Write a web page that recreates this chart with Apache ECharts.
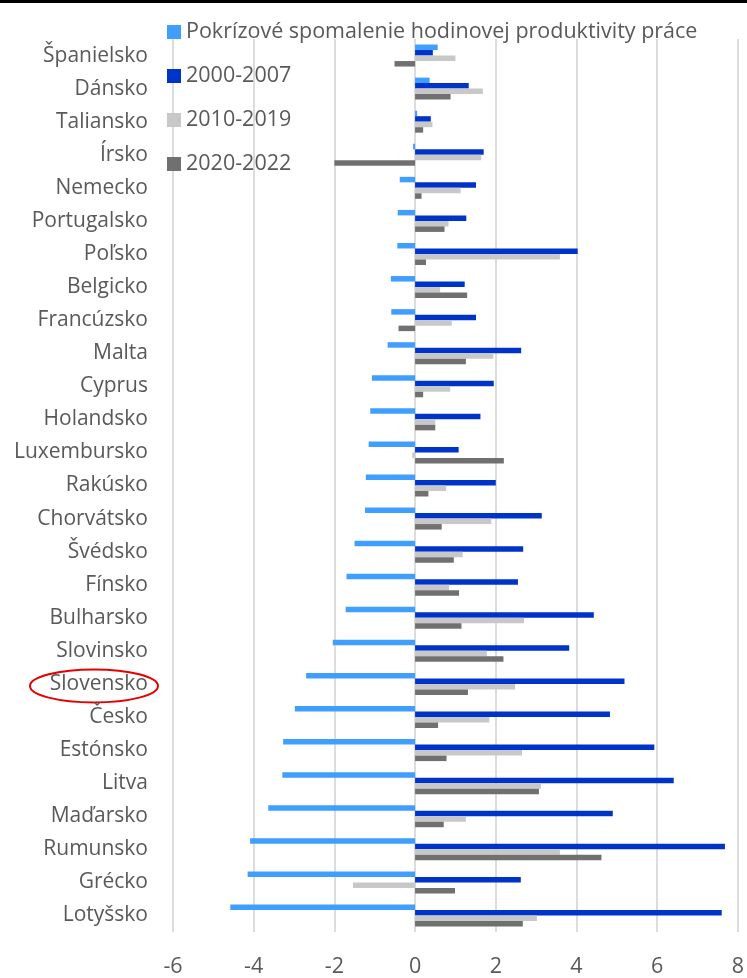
<!DOCTYPE html>
<html>
<head>
<meta charset="utf-8">
<script src="https://cdn.jsdelivr.net/npm/echarts@6/dist/echarts.min.js"></script>
<style>
  html, body { margin: 0; padding: 0; background: #fff; }
  #chart { width: 747px; height: 978px; }
</style>
</head>
<body>
<div id="chart"></div>
<script>
// Countries, top to bottom
const categories = ['Španielsko','Dánsko','Taliansko','Írsko','Nemecko','Portugalsko','Poľsko','Belgicko','Francúzsko','Malta','Cyprus','Holandsko','Luxembursko','Rakúsko','Chorvátsko','Švédsko','Fínsko','Bulharsko','Slovinsko','Slovensko','Česko','Estónsko','Litva','Maďarsko','Rumunsko','Grécko','Lotyšsko'];

// Post-crisis slowdown of hourly labour productivity (p.p.)
const slowdown = [0.56, 0.36, 0.05, -0.05, -0.38, -0.43, -0.44, -0.60, -0.59, -0.68, -1.07, -1.11, -1.15, -1.22, -1.24, -1.50, -1.70, -1.72, -2.04, -2.70, -2.98, -3.27, -3.29, -3.64, -4.09, -4.15, -4.58];
// Average growth of hourly labour productivity (%)
const growth2000_2007 = [0.44, 1.33, 0.39, 1.70, 1.51, 1.27, 4.03, 1.23, 1.51, 2.63, 1.95, 1.62, 1.08, 2.00, 3.14, 2.68, 2.55, 4.43, 3.82, 5.19, 4.83, 5.93, 6.41, 4.90, 7.68, 2.62, 7.60];
const growth2010_2019 = [1.00, 1.68, 0.43, 1.64, 1.13, 0.83, 3.59, 0.62, 0.91, 1.94, 0.87, 0.50, -0.07, 0.77, 1.89, 1.18, 0.84, 2.70, 1.78, 2.48, 1.84, 2.65, 3.12, 1.26, 3.59, -1.54, 3.02];
const growth2020_2022 = [-0.51, 0.88, 0.20, -2.00, 0.16, 0.73, 0.27, 1.29, -0.41, 1.26, 0.20, 0.50, 2.20, 0.33, 0.66, 0.96, 1.09, 1.15, 2.19, 1.31, 0.57, 0.78, 3.07, 0.71, 4.62, 0.99, 2.67];

const seriesNames = ['Pokrízové spomalenie hodinovej produktivity práce', '2000-2007', '2010-2019', '2020-2022'];
const seriesColors = ['#409EFF', '#0033C8', '#C8C8C8', '#707070'];
const xTicks = { min: -6, max: 8, interval: 2 };

const FONT = '"Open Sans", "Noto Sans", sans-serif';
const TEXT = '#595959';

const chart = echarts.init(document.getElementById('chart'), null, { renderer: 'canvas' });

const valueSets = [slowdown, growth2000_2007, growth2010_2019, growth2020_2022];

chart.setOption({
  animation: false,
  textStyle: { fontFamily: FONT },
  grid: { left: 173, right: 7, top: 39, bottom: 45, containLabel: false },
  legend: {
    orient: 'vertical',
    left: 162,
    top: 15,
    itemWidth: 14,
    itemHeight: 14,
    itemGap: 20,
    icon: 'rect',
    data: seriesNames,
    textStyle: { fontFamily: FONT, fontSize: 21.5, color: TEXT, lineHeight: 24 }
  },
  xAxis: {
    type: 'value',
    min: xTicks.min,
    max: xTicks.max,
    interval: xTicks.interval,
    axisLine: { show: false },
    axisTick: { show: false },
    axisLabel: { fontFamily: FONT, fontSize: 21.5, color: TEXT, margin: 24 },
    splitLine: { lineStyle: { color: '#dcdcdc', width: 2 } }
  },
  yAxis: {
    type: 'category',
    inverse: true,
    data: categories,
    axisLine: { show: false },
    axisTick: { show: false },
    axisLabel: { fontFamily: FONT, fontSize: 21, color: TEXT, margin: 25 },
    splitLine: { show: false }
  },
  series: seriesNames.map((name, i) => ({
    name,
    type: 'bar',
    data: valueSets[i],
    barWidth: 5.5,
    barGap: '0%',
    itemStyle: { color: seriesColors[i] }
  }))
});

// Rule under the page heading and the highlight ring around Slovakia's label
const ringY = chart.convertToPixel({ yAxisIndex: 0 }, 'Slovensko') + 2;
chart.setOption({
  graphic: [
    { type: 'rect', shape: { x: 0, y: 0, width: 747, height: 3 }, style: { fill: '#000' } },
    { type: 'ellipse', shape: { cx: 94, cy: ringY, rx: 64, ry: 16.5 }, style: { fill: 'none', stroke: '#E60000', lineWidth: 2 } }
  ]
});
</script>
</body>
</html>
